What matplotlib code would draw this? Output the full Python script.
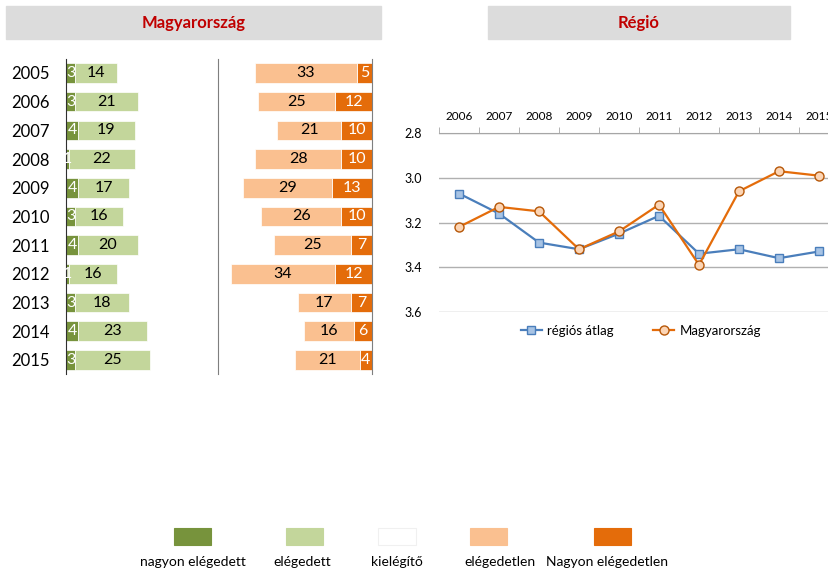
import numpy as np
import matplotlib.pyplot as plt
from matplotlib.patches import Rectangle

plt.rcParams['font.family'] = ['Lato', 'DejaVu Sans']

# bal panel: elegedettseg (Magyarorszag)
evek = ['2005', '2006', '2007', '2008', '2009', '2010', '2011', '2012', '2013', '2014', '2015']
nagyon_elegedett = [3, 3, 4, 1, 4, 3, 4, 1, 3, 4, 3]
elegedett = [14, 21, 19, 22, 17, 16, 20, 16, 18, 23, 25]
elegedetlen = [33, 25, 21, 28, 29, 26, 25, 34, 17, 16, 21]
nagyon_elegedetlen = [5, 12, 10, 10, 13, 10, 7, 12, 7, 6, 4]

# jobb panel: vonaldiagram (Regio)
evek_vonal = ['2006', '2007', '2008', '2009', '2010', '2011', '2012', '2013', '2014', '2015']
regios_atlag = [3.07, 3.16, 3.29, 3.32, 3.25, 3.17, 3.34, 3.32, 3.36, 3.33]
magyarorszag = [3.22, 3.13, 3.15, 3.32, 3.24, 3.12, 3.39, 3.06, 2.97, 2.99]

kat_nevek = ['nagyon elégedett', 'elégedett', 'kielégítő', 'elégedetlen', 'Nagyon elégedetlen']
kat_szinek = ['#77933C', '#C3D69B', '#FFFFFF', '#FAC090', '#E46C0A']

W, H = 829, 571
def px(x0, y0, x1, y1):
    return [x0 / W, 1 - y1 / H, (x1 - x0) / W, (y1 - y0) / H]

fig = plt.figure(figsize=(W / 100, H / 100), dpi=100)

#%% cimdobozok
for (x0, x1, cim) in [(6, 381, 'Magyarország'), (488, 790, 'Régió')]:
    fig.patches.append(Rectangle((x0 / W, 1 - 39 / H), (x1 - x0) / W, 33 / H,
                                 transform=fig.transFigure, color='#DCDCDC'))
    fig.text((x0 + x1) / 2 / W, 1 - 23 / H, cim, ha='center', va='center',
             color='#C00000', fontsize=12, fontweight='bold')

#%% bal oldali savok (elegedett)
y = np.arange(len(evek))
ax1 = fig.add_axes(px(66, 58.6, 218, 374.3))
ax1.barh(y, nagyon_elegedett, height=0.68, color=kat_szinek[0], edgecolor='white', linewidth=0.5)
ax1.barh(y, elegedett, left=nagyon_elegedett, height=0.68, color=kat_szinek[1],
         edgecolor='white', linewidth=0.5)
for i in range(len(evek)):
    ax1.text(nagyon_elegedett[i] / 2, i, str(nagyon_elegedett[i]), ha='center', va='center',
             color='white', fontsize=11.5, clip_on=False)
    ax1.text(nagyon_elegedett[i] + elegedett[i] / 2, i, str(elegedett[i]), ha='center',
             va='center', color='black', fontsize=11.5)
ax1.set_xlim(0, 152 / 3)
ax1.set_ylim(10.5, -0.5)
ax1.set_yticks(y)
ax1.set_yticklabels(evek, fontsize=12)
ax1.tick_params(axis='y', length=0, pad=12)
ax1.set_xticks([])
for s in ['top', 'right', 'bottom']:
    ax1.spines[s].set_visible(False)
ax1.spines['left'].set_color('#303030')

#%% jobb oldali savok (elegedetlen)
ax2 = fig.add_axes(px(218, 58.6, 372, 374.3))
ax2.barh(y, nagyon_elegedetlen, height=0.68, color=kat_szinek[4], edgecolor='white', linewidth=0.5)
ax2.barh(y, elegedetlen, left=nagyon_elegedetlen, height=0.68, color=kat_szinek[3],
         edgecolor='white', linewidth=0.5)
for i in range(len(evek)):
    ax2.text(nagyon_elegedetlen[i] / 2, i, str(nagyon_elegedetlen[i]), ha='center',
             va='center', color='white', fontsize=11.5)
    ax2.text(nagyon_elegedetlen[i] + elegedetlen[i] / 2, i, str(elegedetlen[i]), ha='center',
             va='center', color='black', fontsize=11.5)
ax2.set_xlim(154 / 3.07, 0)
ax2.set_ylim(10.5, -0.5)
ax2.set_xticks([])
ax2.set_yticks([])
for s in ['top', 'bottom']:
    ax2.spines[s].set_visible(False)
ax2.spines['left'].set_color('#7F7F7F')
ax2.spines['right'].set_color('#7F7F7F')

#%% vonaldiagram
ax3 = fig.add_axes(px(439, 133.3, 839, 311.7))
x = np.arange(len(evek_vonal))
l1, = ax3.plot(x, regios_atlag, color='#4A7EBB', lw=1.6, marker='s', markersize=6,
               markerfacecolor='#A7C3E4', markeredgecolor='#4A7EBB', markeredgewidth=1)
l2, = ax3.plot(x, magyarorszag, color='#E46C0A', lw=1.6, marker='o', markersize=6.5,
               markerfacecolor='#FCD5B5', markeredgecolor='#B65708', markeredgewidth=1)
ax3.set_xlim(-0.5, 9.5)
ax3.set_ylim(3.6, 2.8)
ax3.set_yticks([2.8, 3.0, 3.2, 3.4, 3.6])
ax3.set_yticklabels(['2.8', '3.0', '3.2', '3.4', '3.6'], fontsize=9)
ax3.tick_params(axis='y', length=0, pad=12)
ax3.xaxis.tick_top()
ax3.set_xticks(x)
ax3.set_xticklabels(evek_vonal, fontsize=8.5)
ax3.set_xticks(np.arange(-0.5, 10, 1), minor=True)
ax3.tick_params(axis='x', which='major', length=0, pad=8)
ax3.tick_params(axis='x', which='minor', length=4, color='#A6A6A6', direction='out')
ax3.grid(axis='y', color='#B0B0B0', lw=1)
ax3.set_axisbelow(True)
for s in ['left', 'right', 'bottom']:
    ax3.spines[s].set_visible(False)
ax3.spines['top'].set_color('#A6A6A6')
fig.legend([l1, l2], ['régiós átlag', 'Magyarország'], loc='center',
           bbox_to_anchor=(641 / W, 1 - 331 / H), ncol=2, frameon=False, fontsize=9.5,
           columnspacing=3.0, handlelength=1.6, handletextpad=0.4)

#%% also jelmagyarazat
patch_x = [193, 305, 397, 489, 613]
szoveg_x = [193, 302, 397, 500, 607]
for px_, tx, nev, szin in zip(patch_x, szoveg_x, kat_nevek, kat_szinek):
    fig.patches.append(Rectangle(((px_ - 18.5) / W, 1 - 545 / H), 37 / W, 17 / H,
                                 transform=fig.transFigure, facecolor=szin,
                                 edgecolor='#F0F0F0' if szin == '#FFFFFF' else szin, lw=0.8))
    fig.text(tx / W, 1 - 562 / H, nev, ha='center', va='center', fontsize=10)

fig.savefig('out.png', dpi=100)
